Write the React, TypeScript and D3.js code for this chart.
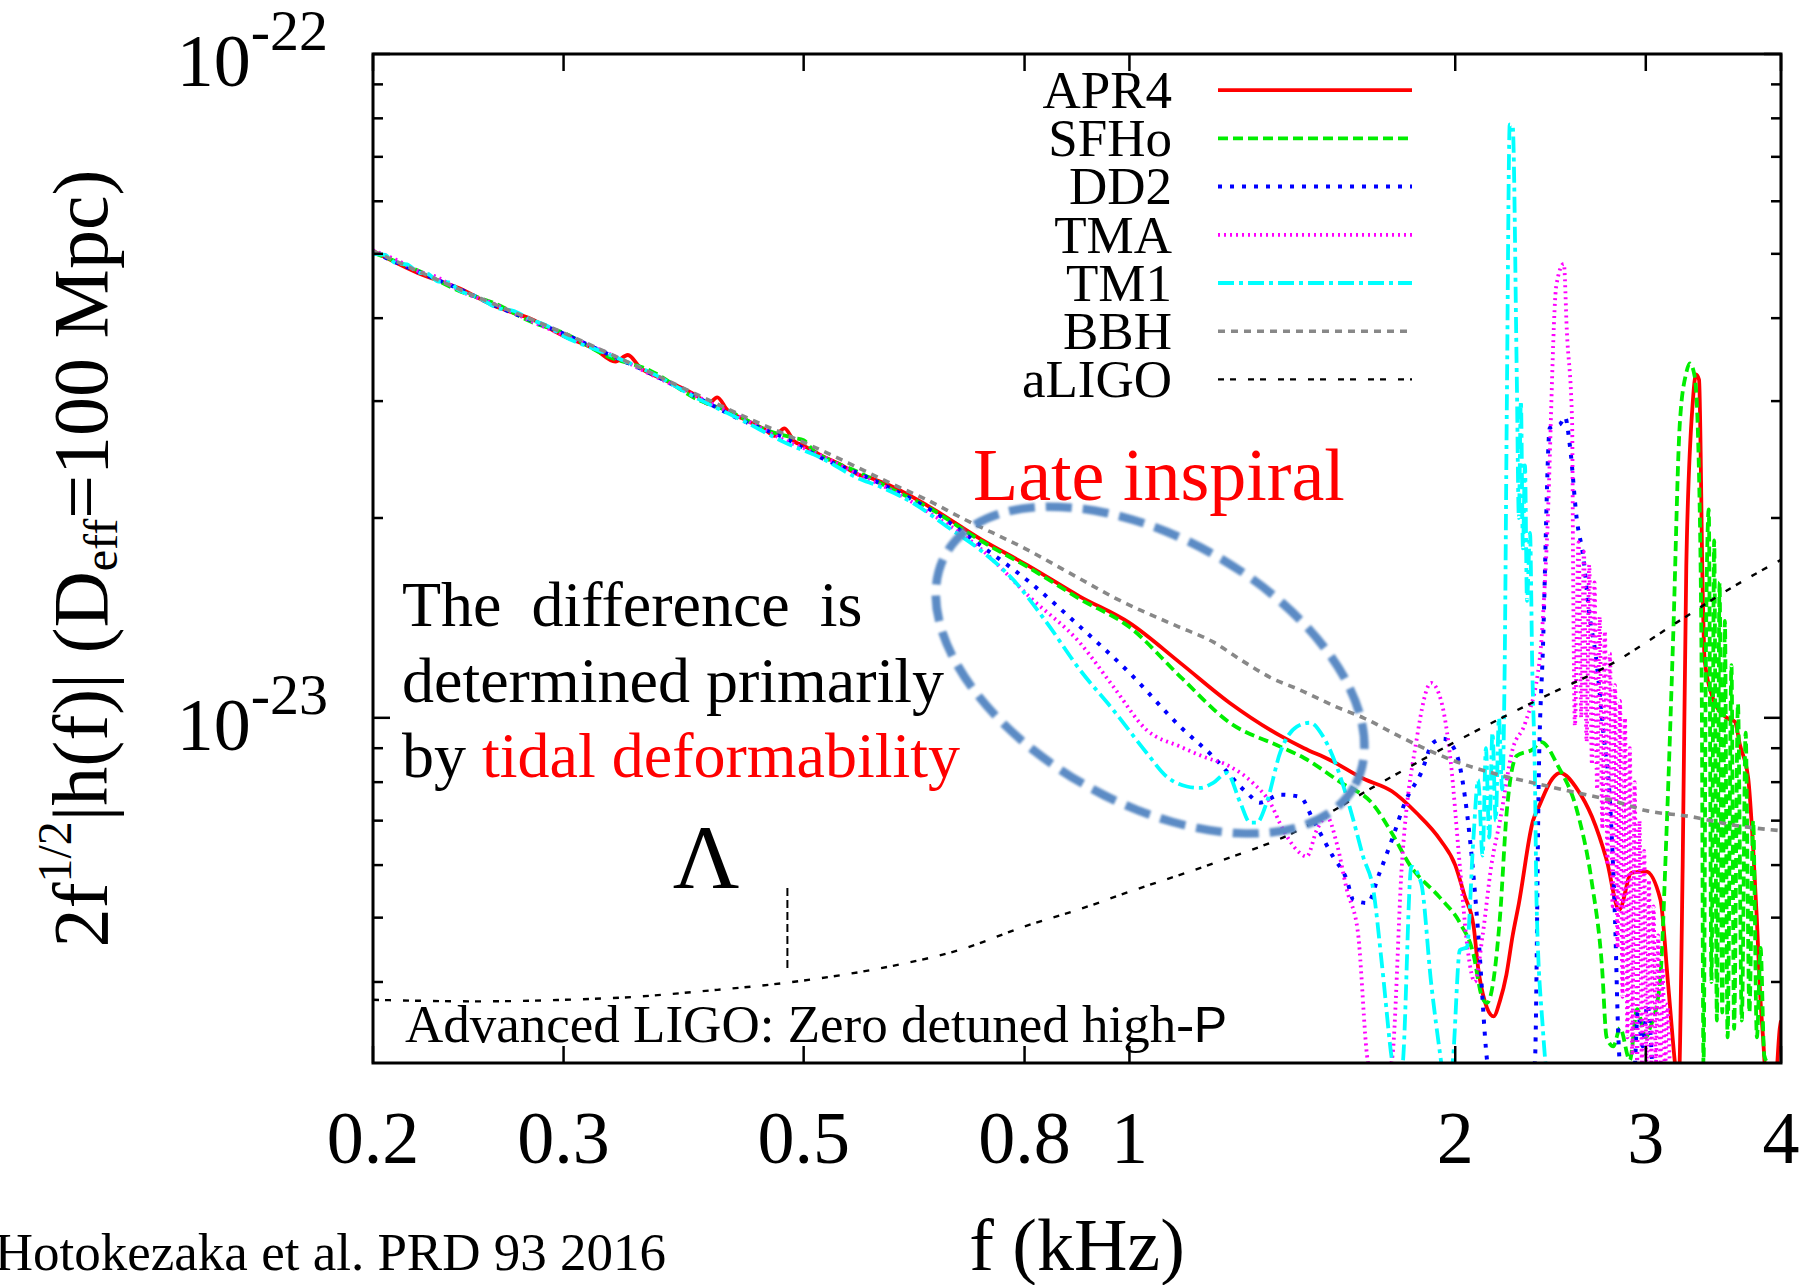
import React from "react";
import * as d3 from "d3";

type Pt = [number, number];

const W = 1816;
const H = 1285;
const FRAME = { left: 373, right: 1781, top: 54, bottom: 1063 };
const SERIF = "'Liberation Serif', 'Times New Roman', Times, serif";

// axes (frequency in kHz, strain amplitude in units of 1e-23)
const X_DOMAIN: [number, number] = [0.2, 4];
const X_TICKS = [0.2, 0.3, 0.5, 0.8, 1, 2, 3, 4];
const X_TICK_LABELS = ["0.2", "0.3", "0.5", "0.8", "1", "2", "3", "4"];
const Y_DOMAIN: [number, number] = [0.302, 10];
const Y_MAJOR = [1, 10];
const Y_MAJOR_EXP = ["-23", "-22"];
const Y_MINOR = [0.4, 0.5, 0.6, 0.7, 0.8, 0.9, 2, 3, 4, 5, 6, 7, 8, 9];

const APR4: Pt[] = [
  [0.2, 5.05], [0.22, 4.68], [0.24, 4.44], [0.26, 4.16], [0.28, 3.99], [0.3, 3.76], [0.32, 3.6], [0.335, 3.44],
  [0.344, 3.52], [0.353, 3.37], [0.37, 3.24], [0.4, 3.04], [0.408, 2.97], [0.416, 3.04], [0.425, 2.91],
  [0.44, 2.82], [0.46, 2.72], [0.47, 2.66], [0.48, 2.73], [0.49, 2.61], [0.5, 2.57], [0.52, 2.48], [0.54, 2.41],
  [0.56, 2.33], [0.58, 2.29], [0.6, 2.24], [0.65, 2.09], [0.728, 1.86], [0.809, 1.69], [0.9, 1.523], [1.0, 1.39],
  [1.114, 1.21], [1.238, 1.053], [1.378, 0.94], [1.45, 0.9], [1.532, 0.864], [1.644, 0.81], [1.748, 0.775],
  [1.84, 0.72], [1.94, 0.653], [2.0, 0.6], [2.04, 0.54], [2.08, 0.485], [2.1, 0.42], [2.13, 0.374], [2.17, 0.355],
  [2.2, 0.375], [2.23, 0.41], [2.26, 0.47], [2.29, 0.525], [2.36, 0.7], [2.39, 0.735], [2.46, 0.81], [2.5, 0.826],
  [2.595, 0.779], [2.675, 0.71], [2.76, 0.611], [2.835, 0.514], [2.91, 0.584], [3.0, 0.587], [3.095, 0.532],
  [3.145, 0.399], [3.19, 0.305], [3.215, 0.27], [3.245, 0.6], [3.27, 1.694], [3.316, 3.0], [3.338, 3.29],
  [3.36, 3.23], [3.386, 1.56], [3.4, 1.223], [3.46, 1.072], [3.563, 1.0], [3.626, 0.987], [3.665, 0.911],
  [3.73, 0.812], [3.77, 0.635], [3.8, 0.496], [3.825, 0.388], [3.85, 0.33], [3.88, 0.28], [3.95, 0.28],
  [3.99, 0.341], [4.0, 0.35],
];

const SFHO: Pt[] = [
  [0.2, 5.02], [0.22, 4.72], [0.24, 4.4], [0.26, 4.2], [0.28, 3.95], [0.3, 3.8], [0.33, 3.5], [0.36, 3.34],
  [0.4, 3.01], [0.43, 2.88], [0.46, 2.72], [0.49, 2.64], [0.5, 2.62], [0.51, 2.53], [0.53, 2.44], [0.56, 2.35],
  [0.6, 2.22], [0.65, 2.08], [0.728, 1.85], [0.809, 1.68], [0.9, 1.51], [1.0, 1.37], [1.114, 1.154],
  [1.238, 0.983], [1.378, 0.905], [1.45, 0.87], [1.566, 0.8], [1.68, 0.74], [1.748, 0.67], [1.816, 0.6],
  [1.936, 0.536], [2.02, 0.491], [2.078, 0.442], [2.117, 0.38], [2.14, 0.372], [2.2, 0.502], [2.232, 0.724],
  [2.28, 0.877], [2.36, 0.897], [2.4, 0.92], [2.49, 0.845], [2.595, 0.719], [2.675, 0.564], [2.733, 0.422],
  [2.76, 0.33], [2.8, 0.32], [2.84, 0.341], [2.9, 0.305], [2.945, 0.364], [3.0, 0.33], [3.027, 0.341],
  [3.09, 0.395], [3.137, 0.689], [3.18, 1.324], [3.225, 2.772], [3.27, 3.31], [3.295, 3.42], [3.33, 3.26],
  [3.366, 1.995], [3.38, 1.037], [3.392, 0.3], [3.41, 1.3], [3.43, 2.06], [3.45, 0.4], [3.47, 1.85],
  [3.49, 0.35], [3.51, 1.6], [3.53, 0.36], [3.55, 1.4], [3.57, 0.33], [3.6, 1.2], [3.62, 0.34], [3.65, 1.05],
  [3.68, 0.35], [3.71, 0.95], [3.74, 0.36], [3.77, 0.7], [3.8, 0.33], [3.83, 0.45], [3.86, 0.31], [3.9, 0.3],
];

const DD2: Pt[] = [
  [0.2, 5.03], [0.22, 4.7], [0.24, 4.43], [0.26, 4.17], [0.28, 3.97], [0.3, 3.79], [0.33, 3.53], [0.36, 3.31],
  [0.4, 3.03], [0.44, 2.8], [0.48, 2.64], [0.52, 2.46], [0.56, 2.34], [0.6, 2.22], [0.654, 2.06], [0.728, 1.82],
  [0.809, 1.6], [0.9, 1.372], [1.0, 1.169], [1.114, 0.97], [1.195, 0.874], [1.284, 0.771], [1.32, 0.745],
  [1.378, 0.766], [1.438, 0.76], [1.478, 0.702], [1.542, 0.618], [1.588, 0.57], [1.61, 0.532], [1.66, 0.526],
  [1.7, 0.58], [1.748, 0.655], [1.8, 0.75], [1.86, 0.826], [1.908, 0.917], [1.95, 0.93], [1.978, 0.917],
  [2.02, 0.845], [2.064, 0.655], [2.1, 0.475], [2.14, 0.305], [2.17, 0.27], [2.346, 0.27], [2.37, 0.305],
  [2.39, 0.845], [2.41, 1.266], [2.446, 2.734], [2.5, 2.77], [2.526, 2.84], [2.554, 2.55], [2.59, 1.995],
  [2.626, 1.75], [2.66, 1.439], [2.7, 1.223], [2.74, 0.956], [2.78, 0.747], [2.81, 0.496], [2.83, 0.33],
  [2.86, 0.27], [2.92, 0.27], [2.95, 0.36], [2.98, 0.32], [3.01, 0.37], [3.05, 0.27],
];

const TMA: Pt[] = [
  [0.2, 5.06], [0.21, 4.9], [0.22, 4.71], [0.23, 4.6], [0.24, 4.41], [0.26, 4.19], [0.28, 3.96], [0.3, 3.77],
  [0.33, 3.54], [0.36, 3.3], [0.4, 3.04], [0.44, 2.82], [0.48, 2.62], [0.52, 2.48], [0.56, 2.33], [0.6, 2.21],
  [0.654, 2.035], [0.728, 1.8], [0.809, 1.52], [0.9, 1.297], [0.966, 1.115], [1.037, 0.959], [1.114, 0.905],
  [1.17, 0.874], [1.238, 0.845], [1.3, 0.798], [1.349, 0.745], [1.387, 0.678], [1.428, 0.632], [1.458, 0.618],
  [1.49, 0.678], [1.522, 0.71], [1.554, 0.648], [1.588, 0.551], [1.626, 0.475], [1.66, 0.305], [1.7, 0.27],
  [1.748, 0.305], [1.785, 0.597], [1.842, 0.926], [1.9, 1.129], [1.94, 1.064], [1.98, 0.865], [2.02, 0.597],
  [2.054, 0.447], [2.085, 0.4], [2.12, 0.47], [2.16, 0.6], [2.2, 0.7], [2.26, 0.897], [2.32, 0.98],
  [2.395, 1.235], [2.43, 1.822], [2.48, 4.48], [2.52, 4.83], [2.536, 3.83], [2.565, 2.77], [2.57, 1.694],
  [2.58, 0.972], [2.6, 1.84], [2.615, 1.0], [2.63, 1.78], [2.645, 0.92], [2.66, 1.7], [2.675, 0.85],
  [2.69, 1.6], [2.705, 0.78], [2.72, 1.42], [2.735, 0.68], [2.75, 1.35], [2.765, 0.6], [2.78, 1.25],
  [2.795, 0.52], [2.81, 1.12], [2.825, 0.45], [2.84, 1.06], [2.855, 0.38], [2.87, 1.0], [2.885, 0.33],
  [2.9, 0.9], [2.915, 0.31], [2.93, 0.8], [2.945, 0.3], [2.96, 0.7], [2.975, 0.3], [2.99, 0.63], [3.005, 0.3],
  [3.02, 0.57], [3.035, 0.3], [3.05, 0.52], [3.065, 0.3], [3.08, 0.47], [3.095, 0.3], [3.11, 0.42],
  [3.125, 0.29], [3.14, 0.37], [3.16, 0.28],
];

const TM1: Pt[] = [
  [0.2, 5.0], [0.205, 4.98], [0.21, 4.84], [0.215, 4.82], [0.22, 4.69], [0.225, 4.66], [0.23, 4.54],
  [0.235, 4.53], [0.24, 4.41], [0.25, 4.3], [0.26, 4.15], [0.27, 4.1], [0.28, 3.98], [0.29, 3.89], [0.3, 3.76],
  [0.33, 3.53], [0.36, 3.32], [0.4, 3.02], [0.44, 2.8], [0.48, 2.6], [0.52, 2.46], [0.56, 2.3], [0.588, 2.23],
  [0.631, 2.107], [0.678, 1.942], [0.728, 1.79], [0.781, 1.614], [0.839, 1.39], [0.9, 1.181], [0.966, 1.028],
  [1.037, 0.886], [1.082, 0.816], [1.13, 0.788], [1.162, 0.784], [1.195, 0.798], [1.23, 0.826], [1.266, 0.745],
  [1.293, 0.695], [1.311, 0.695], [1.339, 0.745], [1.378, 0.886], [1.428, 0.97], [1.468, 0.983], [1.51, 0.937],
  [1.566, 0.816], [1.61, 0.702], [1.644, 0.618], [1.68, 0.551], [1.712, 0.422], [1.748, 0.305], [1.77, 0.27],
  [1.79, 0.305], [1.822, 0.597], [1.86, 0.564], [1.9, 0.399], [1.94, 0.305], [1.96, 0.27], [1.99, 0.305],
  [2.02, 0.447], [2.05, 0.451], [2.078, 0.65], [2.1, 0.806], [2.12, 0.62], [2.135, 0.9], [2.15, 0.66],
  [2.165, 0.95], [2.18, 0.7], [2.195, 1.0], [2.21, 0.78], [2.222, 1.2], [2.232, 2.92], [2.246, 7.83],
  [2.26, 7.8], [2.28, 3.25], [2.29, 2.0], [2.3, 3.0], [2.31, 1.8], [2.32, 2.4], [2.33, 1.5], [2.345, 1.9],
  [2.356, 1.2], [2.37, 0.8], [2.378, 0.525], [2.41, 0.34], [2.44, 0.27],
];

const BBH: Pt[] = [
  [0.2, 5.05], [0.25, 4.3], [0.3, 3.8], [0.35, 3.39], [0.4, 3.06], [0.45, 2.8], [0.5, 2.6], [0.55, 2.42],
  [0.6, 2.26], [0.65, 2.13], [0.7, 2.0], [0.8, 1.8], [0.9, 1.62], [0.966, 1.52], [1.1, 1.38], [1.196, 1.3],
  [1.27, 1.22], [1.35, 1.15], [1.44, 1.1], [1.55, 1.04], [1.645, 1.0], [1.78, 0.936], [1.9, 0.89], [2.0, 0.86],
  [2.2, 0.82], [2.4, 0.793], [2.6, 0.77], [2.8, 0.75], [3.0, 0.725], [3.3, 0.71], [3.6, 0.69], [4.0, 0.676],
];

const ALIGO: Pt[] = [
  [0.2, 0.376], [0.25, 0.374], [0.3, 0.376], [0.35, 0.38], [0.4, 0.387], [0.5, 0.402], [0.6, 0.422],
  [0.7, 0.448], [0.8, 0.485], [0.9, 0.515], [1.0, 0.547], [1.2, 0.605], [1.4, 0.665], [1.7, 0.795],
  [2.0, 0.92], [2.4, 1.07], [2.8, 1.21], [3.2, 1.39], [3.6, 1.57], [4.0, 1.73],
];

// small vertical mark under the Lambda symbol (f, h-range)
const LAMBDA_F = 0.483;
const LAMBDA_H: [number, number] = [0.42, 0.56];
// centre of the "late inspiral" ellipse (f, h)
const ELLIPSE_C: [number, number] = [1.045, 1.18];

const SERIES = [
  { name: "APR4", data: APR4, color: "#ff0000", dash: "none", width: 3.8 },
  { name: "SFHo", data: SFHO, color: "#00ee00", dash: "10,5", width: 3.8 },
  { name: "DD2", data: DD2, color: "#0000ff", dash: "4,8", width: 4 },
  { name: "TMA", data: TMA, color: "#ff00ff", dash: "2,4", width: 3.8 },
  { name: "TM1", data: TM1, color: "#00ffff", dash: "16,5,4,5", width: 3.8 },
  { name: "BBH", data: BBH, color: "#888888", dash: "7,6", width: 3.6 },
  { name: "aLIGO", data: ALIGO, color: "#000000", dash: "6,6,6,12", width: 2.4 },
];

export default function App() {
  const x = d3.scaleLog().domain(X_DOMAIN).range([FRAME.left, FRAME.right]);
  const y = d3.scaleLog().domain(Y_DOMAIN).range([FRAME.bottom, FRAME.top]);
  const line = d3
    .line<Pt>()
    .x((d) => x(d[0]))
    .y((d) => y(d[1]))
    .curve(d3.curveMonotoneX);

  const legendX0 = 1218;
  const legendX1 = 1412;
  const legendTextX = 1172;
  const legendBase = 108;
  const legendStep = 48.2;

  const ecx = x(ELLIPSE_C[0]);
  const ecy = y(ELLIPSE_C[1]);

  return (
    <svg
      width={W}
      height={H}
      viewBox={`0 0 ${W} ${H}`}
      style={{ position: "absolute", left: 0, top: 0, background: "#fff" }}
      fontFamily={SERIF}
    >
      <defs>
        <clipPath id="plotClip">
          <rect
            x={FRAME.left}
            y={FRAME.top}
            width={FRAME.right - FRAME.left}
            height={FRAME.bottom - FRAME.top}
          />
        </clipPath>
        <filter id="soft" x="-10%" y="-10%" width="120%" height="120%">
          <feGaussianBlur stdDeviation="0.8" />
        </filter>
      </defs>
      <rect x={0} y={0} width={W} height={H} fill="#fff" />

      {/* curves */}
      <g clipPath="url(#plotClip)">
        {SERIES.map((s) => (
          <path
            key={s.name}
            d={line(s.data) || ""}
            fill="none"
            stroke={s.color}
            strokeWidth={s.width}
            strokeDasharray={s.dash}
            strokeLinejoin="round"
          />
        ))}
        <line
          x1={x(LAMBDA_F)}
          x2={x(LAMBDA_F)}
          y1={y(LAMBDA_H[0])}
          y2={y(LAMBDA_H[1])}
          stroke="#000"
          strokeWidth={2}
          strokeDasharray="8,4"
        />
      </g>

      {/* ellipse annotation */}
      <ellipse
        cx={ecx}
        cy={ecy}
        rx={235}
        ry={132}
        transform={`rotate(29.7 ${ecx} ${ecy})`}
        fill="none"
        stroke="#5b8bc5"
        strokeWidth={8.5}
        strokeDasharray="26,11"
        filter="url(#soft)"
      />

      {/* ticks */}
      <g stroke="#000" strokeWidth={2.5}>
        {X_TICKS.map((t) => (
          <g key={"xt" + t}>
            <line x1={x(t)} x2={x(t)} y1={FRAME.bottom} y2={FRAME.bottom - 17} />
            <line x1={x(t)} x2={x(t)} y1={FRAME.top} y2={FRAME.top + 17} />
          </g>
        ))}
        {Y_MAJOR.map((t) => (
          <g key={"ym" + t}>
            <line x1={FRAME.left} x2={FRAME.left + 17} y1={y(t)} y2={y(t)} />
            <line x1={FRAME.right} x2={FRAME.right - 17} y1={y(t)} y2={y(t)} />
          </g>
        ))}
        {Y_MINOR.map((t) => (
          <g key={"yn" + t}>
            <line x1={FRAME.left} x2={FRAME.left + 10} y1={y(t)} y2={y(t)} />
            <line x1={FRAME.right} x2={FRAME.right - 10} y1={y(t)} y2={y(t)} />
          </g>
        ))}
      </g>

      {/* frame */}
      <rect
        x={FRAME.left}
        y={FRAME.top}
        width={FRAME.right - FRAME.left}
        height={FRAME.bottom - FRAME.top}
        fill="none"
        stroke="#000"
        strokeWidth={3}
      />

      {/* x tick labels */}
      {X_TICKS.map((t, i) => (
        <text key={"xl" + t} x={x(t)} y={1163} fontSize={74} textAnchor="middle" fill="#000">
          {X_TICK_LABELS[i]}
        </text>
      ))}

      {/* y tick labels */}
      {Y_MAJOR.map((t, i) => (
        <text key={"yl" + t} x={328} y={y(t) + 32} fontSize={74} textAnchor="end" fill="#000">
          10
          <tspan fontSize={58} dy={-36}>
            {Y_MAJOR_EXP[i]}
          </tspan>
        </text>
      ))}

      {/* axis titles */}
      <text x={(FRAME.left + FRAME.right) / 2} y={1270} fontSize={74} textAnchor="middle">
        f (kHz)
      </text>
      <text
        transform={`translate(107, ${(FRAME.top + FRAME.bottom) / 2}) rotate(-90)`}
        fontSize={78}
        textAnchor="middle"
      >
        2f
        <tspan fontSize={48} dy={-36}>
          1/2
        </tspan>
        <tspan dy={36}>|h(f)| (D</tspan>
        <tspan fontSize={48} dy={10}>
          eff
        </tspan>
        <tspan dy={-10}>=100 Mpc)</tspan>
      </text>

      <text x={666} y={1270} fontSize={53} textAnchor="end">
        Hotokezaka et al. PRD 93 2016
      </text>

      {/* legend */}
      {SERIES.map((s, i) => {
        const base = legendBase + legendStep * i;
        return (
          <g key={"lg" + s.name}>
            <text x={legendTextX} y={base} fontSize={53} textAnchor="end">
              {s.name}
            </text>
            <line
              x1={legendX0}
              x2={legendX1}
              y1={base - 17.8}
              y2={base - 17.8}
              stroke={s.color}
              strokeWidth={s.width}
              strokeDasharray={s.dash}
            />
          </g>
        );
      })}

      {/* annotations */}
      <text x={973} y={500} fontSize={74} fill="#ff0000">
        Late inspiral
      </text>
      <text x={402} y={626} fontSize={64} wordSpacing={14}>
        The difference is
      </text>
      <text x={402} y={702} fontSize={64}>
        determined primarily
      </text>
      <text x={402} y={777} fontSize={64}>
        by <tspan fill="#ff0000">tidal deformability</tspan>
      </text>
      <text x={706} y={888} fontSize={92} textAnchor="middle">
        Λ
      </text>
      <text x={405} y={1042} fontSize={53}>
        Advanced LIGO: Zero detuned high-
        <tspan fontFamily="'Liberation Sans', Arial, sans-serif" fontSize={50}>
          P
        </tspan>
      </text>
    </svg>
  );
}
